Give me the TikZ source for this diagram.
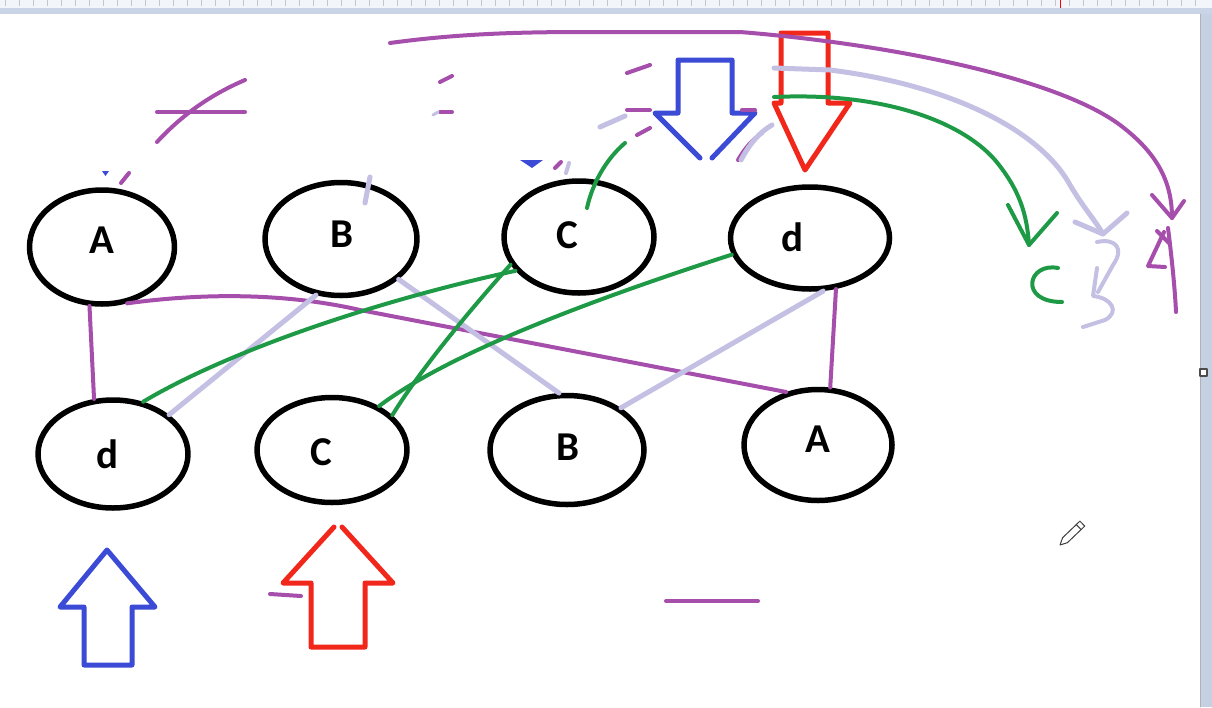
\documentclass[tikz,border=0pt]{standalone}
\usepackage{fontspec}
\setmainfont{Carlito}
\usetikzlibrary{shapes.geometric,calc}
\definecolor{purp}{HTML}{A54EAC}
\definecolor{lav}{HTML}{C4C0E4}
\definecolor{grn}{HTML}{1E9A46}
\definecolor{arrred}{HTML}{F2271C}
\definecolor{arrblue}{HTML}{3B4BD6}
\definecolor{rulerbg}{HTML}{F2F5F9}
\definecolor{rulerband}{HTML}{C9D5E6}
\definecolor{sidebar}{HTML}{C5D0E2}
\begin{document}
\begin{tikzpicture}[x=1pt,y=-1pt,line cap=round,line join=round,
  ell/.style={draw=black,line width=5.5pt,ellipse,inner sep=0pt},
  lbl/.style={font=\fontsize{41}{44}\selectfont\bfseries,inner sep=0pt,anchor=base},
  pstroke/.style={draw=purp,line width=4pt},
  lstroke/.style={draw=lav,line width=5pt},
  gstroke/.style={draw=grn,line width=4pt},
  redarrow/.style={draw=arrred,line width=5pt},
  bluearrow/.style={draw=arrblue,line width=5pt}]
\useasboundingbox (0,0) rectangle (1212,707);
\fill[white] (0,0) rectangle (1212,707);

% window frame: ruler on top, scroll bar on the right
\fill[rulerbg] (0,0) rectangle (1212,8);
\fill[rulerband] (0,8) rectangle (1212,14);
\foreach \t in {5,19,...,1205} \draw[gray!45,line width=0.8pt,line cap=butt] (\t,0) -- (\t,6);
\draw[red,line width=1pt,line cap=butt] (1060,0) -- (1060,8);
\fill[sidebar] (1200,14) rectangle (1212,707);
\draw[gray!60,line width=0.6pt] (1200,14) -- (1200,707);
\draw[fill=white,draw=gray!60!black,line width=1.4pt] (1200,369) rectangle (1207,376);

% pencil cursor
\draw[gray!50!black,line width=1pt,fill=white]
  (1060,545) -- (1067.4,542.7) -- (1084.7,526.1) -- (1079.9,521.1) -- (1062.6,537.7) -- cycle;
\draw[gray!50!black,line width=1pt] (1081.1,529.6) -- (1076.3,524.6);

% ellipses of the two rows
\node[ell,minimum width=145pt,minimum height=114pt] (tA) at (102,247) {};
\node[ell,minimum width=152pt,minimum height=113pt] (tB) at (341,239) {};
\node[ell,minimum width=150pt,minimum height=112pt] (tC) at (579,237) {};
\node[ell,minimum width=159pt,minimum height=102pt] (td) at (810,238) {};
\node[ell,minimum width=150pt,minimum height=108pt] (bd) at (113,454) {};
\node[ell,minimum width=150pt,minimum height=105pt] (bC) at (332,450) {};
\node[ell,minimum width=154pt,minimum height=109pt] (bB) at (567,450) {};
\node[ell,minimum width=148pt,minimum height=111pt] (bA) at (818,445) {};

\node[lbl] (ltA) at (102,253) {A};
\node[lbl] (ltB) at (342,247) {B};
\node[lbl] (ltC) at (567,248) {C};
\node[lbl] (ltd) at (792,251) {d};
\node[lbl] (lbd) at (107,468) {d};
\node[lbl] (lbC) at (321,465) {C};
\node[lbl] (lbB) at (568,460) {B};
\node[lbl] (lbA) at (818,452) {A};

% block arrows
\draw[redarrow] (781,33) -- (828,33) -- (828,103) -- (850,103) -- (805,170) -- (774,103) -- (781,103) -- cycle;
\draw[bluearrow] (700,158) -- (655,113) -- (678,113) -- (678,60) -- (732,60) -- (732,113) -- (755,113) -- (712,158);
\draw[redarrow] (334,527) -- (283,583) -- (311,583) -- (311,647) -- (365,647) -- (365,583) -- (393,583) -- (342,527);
\draw[bluearrow] (107,550) -- (60,607) -- (84,607) -- (84,665) -- (132,665) -- (132,607) -- (155,607) -- cycle;

% purple links
\draw[pstroke] (tA.-102) -- (bd.109);
\draw[pstroke] (tA.-66) .. controls (210,292) and (290,294) .. (360,310) -- (bA.121);
\draw[pstroke] (td.-63) -- (bA.78);

% lavender links
\draw[lstroke] (bd.35) -- (tB.-114);
\draw[lstroke] (tB.-35) -- (bB.98);
\draw[lstroke] (bB.38) -- (td.-76);
\draw[lstroke] (370,177) -- (365,203);

% green links
\draw[gstroke] (bd.60) .. controls (230,350) and (380,300) .. (tC.-152);
\draw[gstroke] (bC.30) .. controls (420,370) and (470,310) .. (tC.-158);
\draw[gstroke] (bC.43) .. controls (440,360) and (560,310) .. (td.-168);
\coordinate (ghook) at (625,143);
\draw[gstroke] (ghook) .. controls (605,160) and (592,185) .. ($(tC.center)+(8,-29)$);

% long arcs to the right
\coordinate (pstart) at (390,43);
\coordinate (ptip) at (1172,218);
\draw[pstroke] (pstart) .. controls (470,32) and (540,32) .. (600,32) -- (740,32)
  .. controls (900,45) and (1060,80) .. (1120,125) .. controls (1160,155) and (1172,185) .. (ptip);
\draw[pstroke] (1152,195) -- (ptip) -- (1184,201);

\coordinate (lstart) at (774,68);
\coordinate (ltip) at (1103,234);
\draw[lstroke] (lstart) -- (830,70) .. controls (950,85) and (1040,130) .. (1070,185)
  .. controls (1085,210) and (1095,220) .. (ltip);
\draw[lstroke] (1075,222) -- (ltip) -- (1127,213);

\coordinate (gstart) at (774,97);
\coordinate (gtip) at (1029,245);
\draw[gstroke] (gstart) .. controls (880,92) and (960,120) .. (995,160)
  .. controls (1020,190) and (1027,215) .. (gtip);
\draw[gstroke] (1008,205) -- (gtip) -- (1057,213);

% handwritten letters at the arrow ends
\draw[gstroke] (1058,268) .. controls (1028,262) and (1018,302) .. (1062,302);
\draw[lstroke,line width=4pt] (1097,242) .. controls (1115,238) and (1125,248) .. (1113,265) -- (1098,292);
\draw[lstroke,line width=4pt] (1097,268) -- (1093,296) .. controls (1112,298) and (1120,312) .. (1105,320) -- (1083,327);
\draw[pstroke] (1168,228) .. controls (1172,260) and (1175,290) .. (1176,312);
\draw[pstroke] (1164,232) -- (1148,266) -- (1165,267);
\draw[pstroke] (1157,231) -- (1170,244);

% stray strokes
\draw[pstroke] (157,112) -- (245,112);
\draw[pstroke] (157,142) .. controls (182,115) and (210,95) .. (245,80);
\draw[pstroke] (440,82) -- (452,76);
\draw[pstroke] (440,112) -- (452,112);
\draw[lstroke,line width=3pt] (433,115) -- (438,112);
\draw[pstroke] (627,73) -- (650,65);
\draw[pstroke] (627,110) -- (650,110);
\draw[pstroke] (637,135) -- (650,128);
\draw[lstroke] (600,127) -- (625,116);
\fill[arrblue] (520,160) -- (543,160) -- (532,168) -- cycle;
\draw[pstroke] (555,168) -- (561,162);
\draw[lstroke,line width=4pt] (566,173) -- (569,163);
\draw[pstroke] (742,110) -- (755,110);
\draw[pstroke] (738,160) .. controls (745,148) and (752,140) .. (762,133);
\draw[lstroke] (741,160) .. controls (750,143) and (760,132) .. (772,125);
\fill[arrblue] (102,171) -- (109,171) -- (105.5,176) -- cycle;
\draw[pstroke] (121,183) -- (129,173);
\draw[pstroke] (270,594) -- (301,596);
\draw[pstroke] (666,601) -- (758,601);
\end{tikzpicture}
\end{document}
